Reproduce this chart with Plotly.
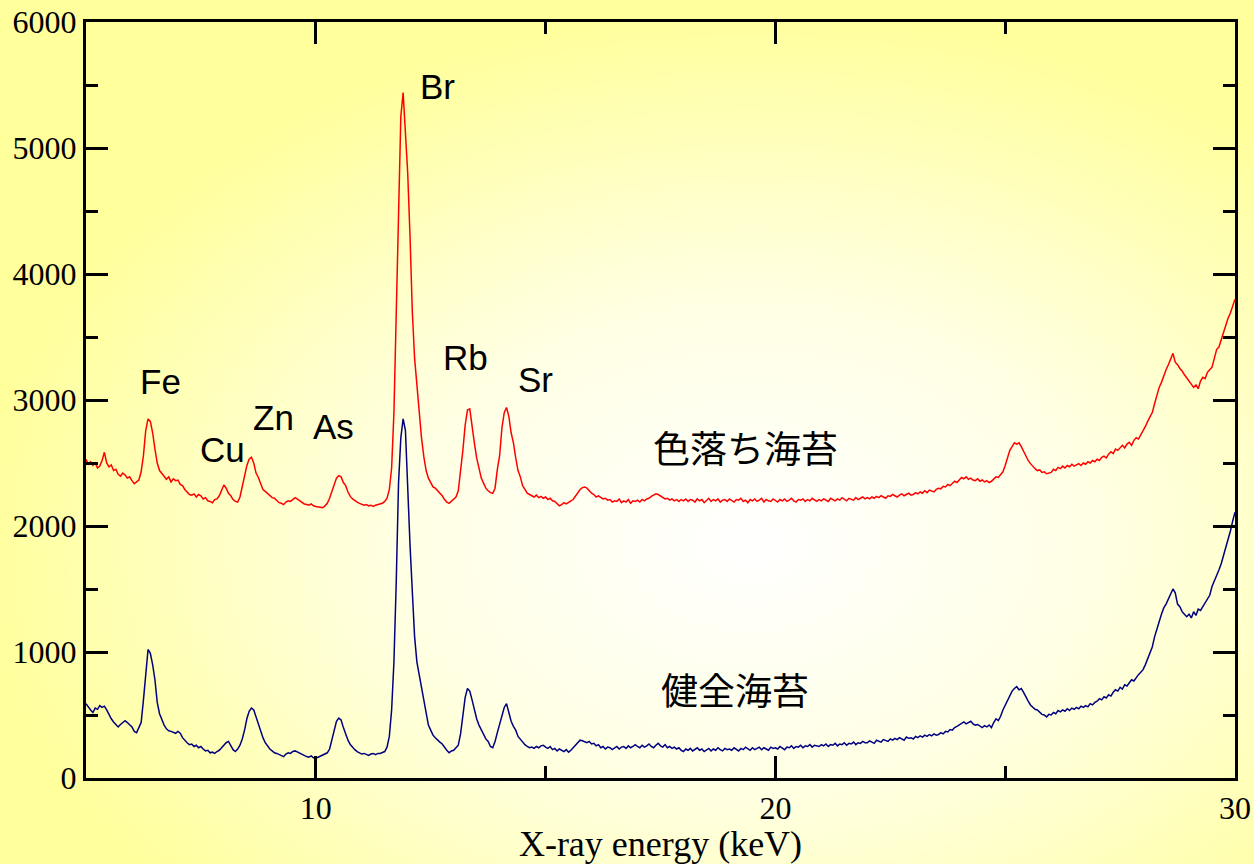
import base64
import numpy as np
import plotly.graph_objects as go

# Channel energies (keV), 0.05 keV per channel from 5 to 30 keV
energy_kev = np.round(5.0 + 0.05 * np.arange(501), 2)

# Discoloured nori spectrum (counts), one row per keV (20 channels each)
discolored_rows = [
    [2530, 2490, 2510, 2480, 2505, 2460, 2475, 2520, 2585, 2500, 2470, 2485, 2440, 2450, 2410, 2395, 2420, 2405, 2380, 2390],
    [2360, 2335, 2350, 2365, 2430, 2560, 2760, 2850, 2830, 2740, 2610, 2500, 2440, 2420, 2395, 2370, 2390, 2350, 2375, 2360],
    [2365, 2330, 2320, 2290, 2270, 2250, 2245, 2255, 2230, 2250, 2240, 2215, 2225, 2200, 2195, 2185, 2210, 2215, 2240, 2290],
    [2325, 2300, 2260, 2240, 2210, 2195, 2190, 2230, 2320, 2400, 2480, 2530, 2545, 2500, 2420, 2385, 2340, 2290, 2275, 2260],
    [2240, 2225, 2220, 2200, 2185, 2180, 2170, 2190, 2200, 2195, 2210, 2225, 2214, 2200, 2185, 2175, 2170, 2165, 2175, 2160],
    [2155, 2150, 2150, 2145, 2160, 2180, 2220, 2280, 2330, 2380, 2400, 2390, 2345, 2320, 2270, 2235, 2215, 2200, 2190, 2180],
    [2170, 2165, 2170, 2160, 2165, 2155, 2165, 2170, 2180, 2180, 2195, 2220, 2290, 2460, 2900, 3700, 4640, 5250, 5440, 5150],
    [4800, 4300, 3700, 3330, 3100, 2900, 2700, 2550, 2440, 2380, 2340, 2310, 2300, 2280, 2265, 2240, 2210, 2190, 2180, 2195],
    [2210, 2230, 2280, 2420, 2600, 2800, 2920, 2930, 2780, 2660, 2540, 2460, 2380, 2340, 2300, 2280, 2265, 2260, 2300, 2450],
    [2560, 2780, 2900, 2940, 2870, 2740, 2660, 2540, 2440, 2390, 2320, 2290, 2260, 2250, 2240, 2230, 2245, 2225, 2235, 2220],
    [2230, 2210, 2220, 2200, 2195, 2180, 2160, 2170, 2185, 2175, 2190, 2200, 2210, 2240, 2270, 2290, 2305, 2310, 2300, 2280],
    [2260, 2250, 2230, 2240, 2225, 2215, 2220, 2205, 2210, 2190, 2200, 2195, 2215, 2185, 2200, 2190, 2210, 2180, 2200, 2195],
    [2205, 2190, 2210, 2200, 2215, 2220, 2235, 2245, 2255, 2250, 2240, 2225, 2215, 2220, 2205, 2215, 2200, 2210, 2195, 2210],
    [2200, 2215, 2195, 2210, 2205, 2190, 2215, 2200, 2210, 2185, 2205, 2220, 2195, 2210, 2200, 2215, 2190, 2205, 2210, 2195],
    [2215, 2200, 2190, 2210, 2205, 2220, 2195, 2205, 2185, 2210, 2200, 2215, 2195, 2205, 2220, 2190, 2210, 2200, 2195, 2215],
    [2205, 2190, 2210, 2200, 2215, 2195, 2205, 2220, 2200, 2190, 2210, 2205, 2215, 2195, 2210, 2200, 2220, 2205, 2195, 2210],
    [2200, 2215, 2205, 2195, 2220, 2210, 2200, 2215, 2205, 2225, 2210, 2200, 2220, 2215, 2205, 2225, 2210, 2220, 2230, 2215],
    [2225, 2215, 2230, 2220, 2235, 2225, 2240, 2230, 2220, 2240, 2235, 2250, 2240, 2230, 2245, 2255, 2240, 2250, 2260, 2245],
    [2250, 2265, 2255, 2270, 2260, 2280, 2265, 2285, 2275, 2270, 2290, 2300, 2295, 2315, 2310, 2330, 2320, 2340, 2355, 2345],
    [2370, 2385, 2375, 2390, 2370, 2380, 2365, 2360, 2375, 2355, 2365, 2350, 2360, 2345, 2355, 2370, 2390, 2385, 2410, 2430],
    [2480, 2540, 2600, 2630, 2660, 2650, 2660, 2630, 2590, 2555, 2520, 2495, 2470, 2455, 2440, 2445, 2425, 2430, 2415, 2420],
    [2425, 2450, 2440, 2465, 2455, 2475, 2460, 2480, 2470, 2490, 2475, 2485, 2495, 2480, 2500, 2490, 2510, 2500, 2520, 2510],
    [2530, 2520, 2545, 2555, 2540, 2570, 2590, 2575, 2610, 2600, 2625, 2640, 2620, 2650, 2665, 2640, 2680, 2700, 2690, 2720],
    [2760, 2790, 2830, 2870, 2900, 2970, 3040, 3100, 3140, 3200, 3240, 3280, 3330, 3370, 3300, 3280, 3250, 3230, 3200, 3175],
    [3150, 3130, 3100, 3120, 3090, 3150, 3180, 3170, 3220, 3240, 3260, 3330, 3400, 3420, 3480, 3550, 3600, 3650, 3690, 3750],
    [3800],
]

# Healthy nori spectrum (counts), same channel layout
healthy_rows = [
    [590, 560, 540, 520, 555, 545, 575, 560, 570, 540, 500, 470, 445, 420, 405, 425, 440, 455, 440, 420],
    [405, 370, 360, 400, 440, 620, 840, 1020, 990, 900, 780, 600, 510, 460, 420, 390, 375, 370, 365, 355],
    [370, 355, 320, 295, 280, 265, 270, 250, 260, 240, 250, 230, 215, 220, 200, 205, 195, 210, 220, 240],
    [265, 280, 290, 260, 225, 210, 230, 260, 310, 380, 470, 530, 555, 540, 480, 440, 380, 320, 280, 250],
    [230, 215, 200, 195, 185, 180, 170, 190, 200, 195, 210, 215, 205, 195, 185, 180, 170, 165, 175, 160],
    [155, 165, 175, 185, 195, 200, 230, 300, 390, 450, 475, 460, 400, 340, 300, 265, 240, 225, 210, 200],
    [190, 195, 185, 180, 190, 195, 185, 195, 195, 200, 210, 245, 330, 540, 920, 1550, 2340, 2700, 2850, 2760],
    [2250, 1850, 1480, 1120, 920, 820, 720, 620, 500, 420, 380, 340, 320, 300, 285, 270, 240, 220, 200, 215],
    [220, 240, 260, 350, 480, 640, 710, 690, 620, 540, 470, 420, 380, 340, 310, 290, 250, 240, 290, 360],
    [420, 500, 560, 590, 520, 450, 410, 380, 330, 305, 280, 265, 250, 240, 245, 235, 250, 240, 255, 260],
    [245, 235, 250, 225, 235, 215, 230, 220, 210, 225, 205, 220, 240, 265, 280, 300, 295, 285, 280, 290],
    [270, 275, 255, 265, 240, 250, 230, 245, 240, 225, 240, 250, 230, 245, 250, 235, 255, 240, 250, 265],
    [250, 240, 260, 245, 255, 270, 250, 240, 260, 275, 255, 245, 265, 240, 250, 235, 245, 230, 240, 220],
    [210, 230, 220, 235, 215, 225, 240, 220, 230, 210, 225, 235, 215, 230, 220, 240, 225, 215, 235, 225],
    [230, 220, 240, 225, 215, 235, 225, 245, 230, 220, 240, 225, 235, 245, 225, 240, 230, 220, 245, 235],
    [240, 230, 250, 235, 225, 245, 240, 255, 235, 250, 245, 260, 240, 255, 250, 265, 245, 260, 255, 250],
    [265, 255, 270, 250, 265, 260, 275, 255, 270, 265, 280, 260, 275, 270, 285, 265, 280, 275, 290, 280],
    [280, 295, 285, 275, 300, 290, 285, 305, 295, 290, 310, 300, 315, 305, 320, 310, 300, 325, 315, 320],
    [310, 330, 320, 335, 325, 340, 330, 345, 335, 350, 340, 345, 360, 350, 370, 365, 385, 380, 400, 410],
    [420, 435, 445, 430, 440, 450, 430, 420, 425, 410, 400, 415, 405, 420, 400, 440, 470, 455, 490, 540],
    [580, 610, 660, 690, 710, 725, 700, 710, 680, 640, 610, 580, 560, 545, 540, 520, 505, 500, 485, 505],
    [500, 520, 510, 535, 525, 540, 530, 550, 535, 555, 545, 560, 550, 570, 560, 575, 565, 590, 580, 600],
    [610, 630, 620, 645, 635, 660, 650, 680, 700, 690, 720, 705, 740, 730, 760, 780, 770, 800, 820, 840],
    [860, 900, 950, 1000, 1040, 1120, 1190, 1240, 1300, 1350, 1380, 1420, 1460, 1500, 1470, 1380, 1360, 1320, 1300, 1280],
    [1300, 1270, 1320, 1290, 1340, 1330, 1360, 1390, 1430, 1450, 1520, 1560, 1600, 1650, 1700, 1760, 1830, 1900, 1960, 2040],
    [2110],
]

discolored_counts = [v for row in discolored_rows for v in row]
healthy_counts = [v for row in healthy_rows for v in row]

# Element labels and their (energy, counts) anchor positions
element_names = ["Fe", "Cu", "Zn", "As", "Br", "Rb", "Sr"]
element_x = [6.63, 7.98, 9.09, 10.39, 12.65, 13.26, 14.78]
element_y = [3150, 2610, 2860, 2790, 5490, 3340, 3160]

# Sample labels
sample_names = ["色落ち海苔", "健全海苔"]
sample_x = [19.35, 19.13]
sample_y = [2630, 705]

x_ticks = [10, 20, 30]
y_ticks = [0, 1000, 2000, 3000, 4000, 5000, 6000]

fig = go.Figure()
fig.add_trace(go.Scatter(x=energy_kev, y=healthy_counts, mode="lines",
                         line=dict(color="#000080", width=1.5), name=sample_names[1]))
fig.add_trace(go.Scatter(x=energy_kev, y=discolored_counts, mode="lines",
                         line=dict(color="#ff0000", width=1.5), name=sample_names[0]))

for name, x, y in zip(element_names, element_x, element_y):
    fig.add_annotation(x=x, y=y, text=name, showarrow=False,
                       font=dict(family="Liberation Sans, Arial", size=35, color="black"))
for name, x, y in zip(sample_names, sample_x, sample_y):
    fig.add_annotation(x=x, y=y, text=name, showarrow=False,
                       font=dict(family="Noto Sans CJK JP", size=37, color="black"))

# Soft radial background: white centre fading to pale yellow
W, H = 1254, 864
L, R, T, B = 86, 19, 22, 86
pw, ph = W - L - R, H - T - B
svg = (
    f'<svg xmlns="http://www.w3.org/2000/svg" width="{W}" height="{H}">'
    '<defs><radialGradient id="g" cx="0.6" cy="0.63" r="0.62">'
    '<stop offset="0" stop-color="#ffffff"/>'
    '<stop offset="0.45" stop-color="#ffffe4"/>'
    '<stop offset="1" stop-color="#ffff9c"/>'
    '</radialGradient></defs>'
    f'<rect width="{W}" height="{H}" fill="url(#g)"/></svg>'
)
bg_src = "data:image/svg+xml;base64," + base64.b64encode(svg.encode()).decode()
fig.add_layout_image(dict(source=bg_src, xref="paper", yref="paper",
                          x=-L / pw, y=1 + T / ph, sizex=W / pw, sizey=H / ph,
                          xanchor="left", yanchor="top", sizing="stretch", layer="below"))

axis_common = dict(
    automargin=False,
    showgrid=False, zeroline=False, showline=True, linecolor="black", linewidth=3,
    mirror="ticks", ticks="inside", ticklen=22, tickwidth=3, tickcolor="black",
    tickfont=dict(family="Liberation Serif, Times New Roman", size=32, color="black"),
)

fig.update_xaxes(range=[5, 30], tickvals=x_ticks, ticktext=[str(v) for v in x_ticks],
                 minor=dict(dtick=5, tick0=0, ticks="inside", ticklen=12, tickwidth=3, tickcolor="black"),
                 title=dict(text="X-ray energy (keV)", standoff=6,
                            font=dict(family="Liberation Serif, Times New Roman", size=36, color="black")),
                 **axis_common)
fig.update_yaxes(range=[0, 6000], tickvals=y_ticks, ticktext=[str(v) for v in y_ticks],
                 minor=dict(dtick=500, tick0=0, ticks="inside", ticklen=12, tickwidth=3, tickcolor="black"),
                 **axis_common)

fig.update_layout(
    width=W, height=H, showlegend=False,
    margin=dict(l=L, r=R, t=T, b=B),
    paper_bgcolor="#ffff9c", plot_bgcolor="rgba(0,0,0,0)",
)

fig.write_html("out.html")
